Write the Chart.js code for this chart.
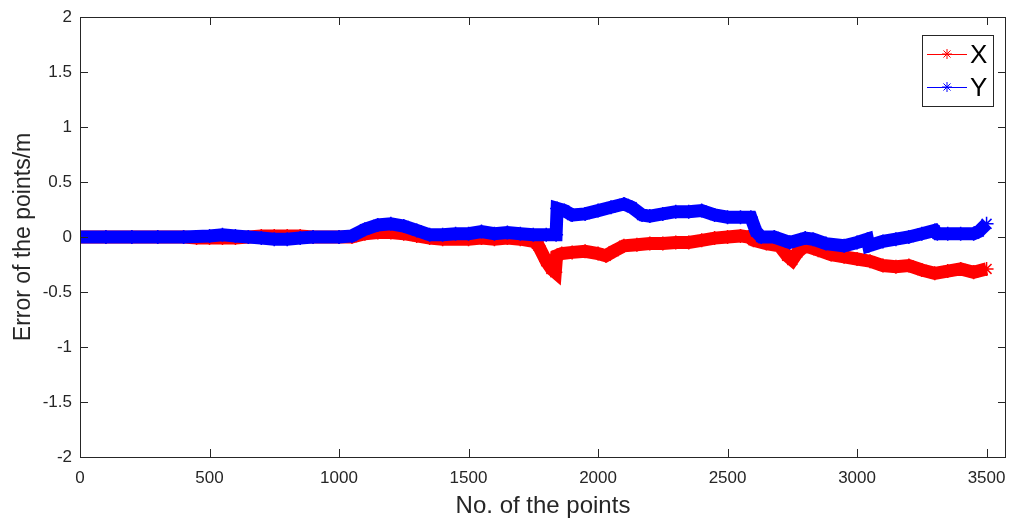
<!DOCTYPE html>
<html>
<head>
<meta charset="utf-8">
<script src="https://cdn.jsdelivr.net/npm/chart.js@4.4.0/dist/chart.umd.min.js"></script>
<style>
  html, body { margin: 0; padding: 0; background: #fff; }
  #wrap { width: 1010px; height: 522px; }
</style>
</head>
<body>
<div id="wrap"><canvas id="err"></canvas></div>
<script>
// point index and error (m), X series
var idxX = [0, 100, 200, 300, 400, 450, 500, 550, 600, 650, 700, 750, 800, 850, 900, 1000, 1050, 1100, 1150, 1200,
  1250, 1300, 1350, 1400, 1500, 1550, 1600, 1650, 1700, 1750, 1770, 1800, 1820, 1835, 1840, 1860, 1900, 1950, 2000,
  2030, 2060, 2100, 2150, 2200, 2250, 2300, 2350, 2400, 2450, 2500, 2550, 2580, 2600, 2650, 2700, 2730, 2750, 2770,
  2800, 2850, 2900, 2950, 3000, 3050, 3100, 3150, 3200, 3250, 3300, 3350, 3400, 3450, 3500];
var errX = [0, 0, 0, 0, 0, -0.01, -0.01, -0.01, -0.01, 0, 0.01, 0.01, 0.01, 0.01, 0, 0, 0, 0.03, 0.04, 0.04,
  0.03, 0.01, -0.01, -0.02, -0.02, -0.01, -0.02, -0.01, -0.02, -0.04, -0.08, -0.22, -0.29, -0.32, -0.17, -0.15, -0.14, -0.13, -0.15,
  -0.17, -0.13, -0.08, -0.07, -0.06, -0.06, -0.05, -0.05, -0.03, -0.01, 0, 0.01, 0, -0.03, -0.06, -0.08, -0.17, -0.21, -0.14,
  -0.08, -0.12, -0.16, -0.18, -0.2, -0.22, -0.26, -0.27, -0.26, -0.3, -0.33, -0.31, -0.29, -0.32, -0.29];

// Y series
var idxY = [0, 100, 200, 300, 400, 500, 550, 600, 650, 700, 750, 800, 850, 900, 1000, 1050, 1100, 1150, 1200, 1250,
  1300, 1350, 1400, 1450, 1500, 1550, 1600, 1650, 1700, 1750, 1800, 1838, 1842, 1870, 1900, 1950, 2000, 2050, 2100,
  2130, 2170, 2200, 2250, 2300, 2350, 2400, 2450, 2500, 2550, 2590, 2610, 2630, 2680, 2740, 2800, 2830, 2880, 2950,
  3000, 3040, 3045, 3100, 3150, 3200, 3250, 3300, 3310, 3350, 3400, 3450, 3470, 3500];
var errY = [0, 0, 0, 0, 0, 0.01, 0.02, 0.01, 0, -0.01, -0.02, -0.02, -0.01, 0, 0, 0.01, 0.07, 0.11, 0.12, 0.1,
  0.06, 0.02, 0.02, 0.03, 0.03, 0.05, 0.03, 0.04, 0.03, 0.02, 0.02, 0.02, 0.26, 0.24, 0.2, 0.21, 0.24, 0.27, 0.3,
  0.27, 0.2, 0.19, 0.21, 0.23, 0.23, 0.24, 0.2, 0.18, 0.18, 0.18, 0.05, 0, 0, -0.05, -0.01, -0.02, -0.06, -0.08,
  -0.05, -0.02, -0.08, -0.04, -0.02, 0, 0.03, 0.06, 0.03, 0.03, 0.03, 0.03, 0.05, 0.12];

var xTicks = [0, 500, 1000, 1500, 2000, 2500, 3000, 3500];
var yTicks = [-2, -1.5, -1, -0.5, 0, 0.5, 1, 1.5, 2];

var axisColor = '#262626';
var fontFam = '"Liberation Sans", Arial, sans-serif';

function toPoints(xs, ys) {
  var pts = [];
  for (var i = 0; i < xs.length; i++) {
    pts.push({ x: xs[i], y: ys[i] });
  }
  return pts;
}

// MATLAB style box with inward ticks, x tick labels, plus the legend
var boxPlugin = {
  id: 'box',
  afterDraw: function(chart) {
    var ctx = chart.ctx;
    var a = chart.chartArea;
    var xs = chart.scales.x, ys = chart.scales.y;
    ctx.save();
    ctx.strokeStyle = axisColor;
    ctx.lineWidth = 1;
    ctx.strokeRect(a.left + 0.5, a.top + 0.5, a.right - a.left - 1, a.bottom - a.top);
    ctx.beginPath();
    xTicks.forEach(function(v) {
      var px = Math.round(xs.getPixelForValue(v)) + 0.5;
      ctx.moveTo(px, a.bottom); ctx.lineTo(px, a.bottom - 8);
      ctx.moveTo(px, a.top); ctx.lineTo(px, a.top + 8);
    });
    yTicks.forEach(function(v) {
      var py = Math.round(ys.getPixelForValue(v)) + 0.5;
      ctx.moveTo(a.left, py); ctx.lineTo(a.left + 8, py);
      ctx.moveTo(a.right, py); ctx.lineTo(a.right - 8, py);
    });
    ctx.stroke();

    // x tick labels (drawn here so the last one may hang past the box)
    ctx.fillStyle = axisColor;
    ctx.font = '17px ' + fontFam;
    ctx.textAlign = 'center';
    ctx.textBaseline = 'middle';
    xTicks.forEach(function(v) {
      ctx.fillText(String(v), xs.getPixelForValue(v), a.bottom + 21);
    });

    // legend box, top right
    var lx = a.right - 84, ly = a.top + 18, lw = 71, lh = 71;
    ctx.fillStyle = '#fff';
    ctx.fillRect(lx, ly, lw, lh);
    ctx.strokeRect(lx + 0.5, ly + 0.5, lw, lh);
    chart.data.datasets.forEach(function(ds, i) {
      var cy = ly + 19 + i * 33;
      ctx.strokeStyle = ds.borderColor;
      ctx.lineWidth = 1;
      ctx.beginPath();
      ctx.moveTo(lx + 5, cy + 0.5); ctx.lineTo(lx + 45, cy + 0.5);
      // asterisk marker
      var cx = lx + 25;
      for (var k = 0; k < 4; k++) {
        var ang = k * Math.PI / 4;
        ctx.moveTo(cx - 5 * Math.cos(ang), cy - 5 * Math.sin(ang));
        ctx.lineTo(cx + 5 * Math.cos(ang), cy + 5 * Math.sin(ang));
      }
      ctx.stroke();
      ctx.fillStyle = '#000';
      ctx.font = '26px ' + fontFam;
      ctx.textBaseline = 'middle';
      ctx.textAlign = 'left';
      ctx.fillText(ds.label, lx + 48, cy + 2);
    });
    ctx.restore();
  }
};

new Chart(document.getElementById('err'), {
  type: 'line',
  data: {
    datasets: [{
      label: 'X',
      data: toPoints(idxX, errX),
      borderColor: '#ff0000',
      backgroundColor: '#ff0000',
      borderWidth: 13,
      pointStyle: 'star',
      pointRadius: 7,
      pointBorderWidth: 1.5,
      order: 2
    }, {
      label: 'Y',
      data: toPoints(idxY, errY),
      borderColor: '#0000ff',
      backgroundColor: '#0000ff',
      borderWidth: 13,
      pointStyle: 'star',
      pointRadius: 7,
      pointBorderWidth: 1.5,
      order: 1
    }]
  },
  options: {
    responsive: true,
    maintainAspectRatio: false,
    animation: false,
    layout: { autoPadding: false, padding: { top: 17, right: 4, left: 0, bottom: 0 } },
    plugins: {
      legend: { display: false },
      tooltip: { enabled: false }
    },
    scales: {
      x: {
        type: 'linear',
        min: 0,
        max: 3575,
        afterBuildTicks: function(scale) {
          scale.ticks = xTicks.map(function(v) { return { value: v }; });
        },
        afterFit: function(scale) {
          scale.height = 65;
        },
        grid: { display: false, drawTicks: false, tickLength: 0 },
        border: { display: false },
        ticks: { display: false },
        title: {
          display: true,
          text: 'No. of the points',
          color: axisColor,
          font: { size: 24, family: fontFam },
          padding: { top: 0, bottom: 1 }
        }
      },
      y: {
        min: -2,
        max: 2,
        afterBuildTicks: function(scale) {
          scale.ticks = yTicks.map(function(v) { return { value: v }; });
        },
        afterFit: function(scale) {
          scale.width = 80;
          scale.paddingTop = 0;
          scale.paddingBottom = 0;
        },
        grid: { display: false, drawTicks: false, tickLength: 0 },
        border: { display: false },
        ticks: {
          color: axisColor,
          font: { size: 17, family: fontFam },
          padding: 8,
          callback: function(v) { return String(v); }
        },
        title: {
          display: true,
          text: 'Error of the points/m',
          color: axisColor,
          font: { size: 23, family: fontFam },
          padding: { top: 10, bottom: 0 }
        }
      }
    }
  },
  plugins: [boxPlugin]
});
</script>
</body>
</html>
